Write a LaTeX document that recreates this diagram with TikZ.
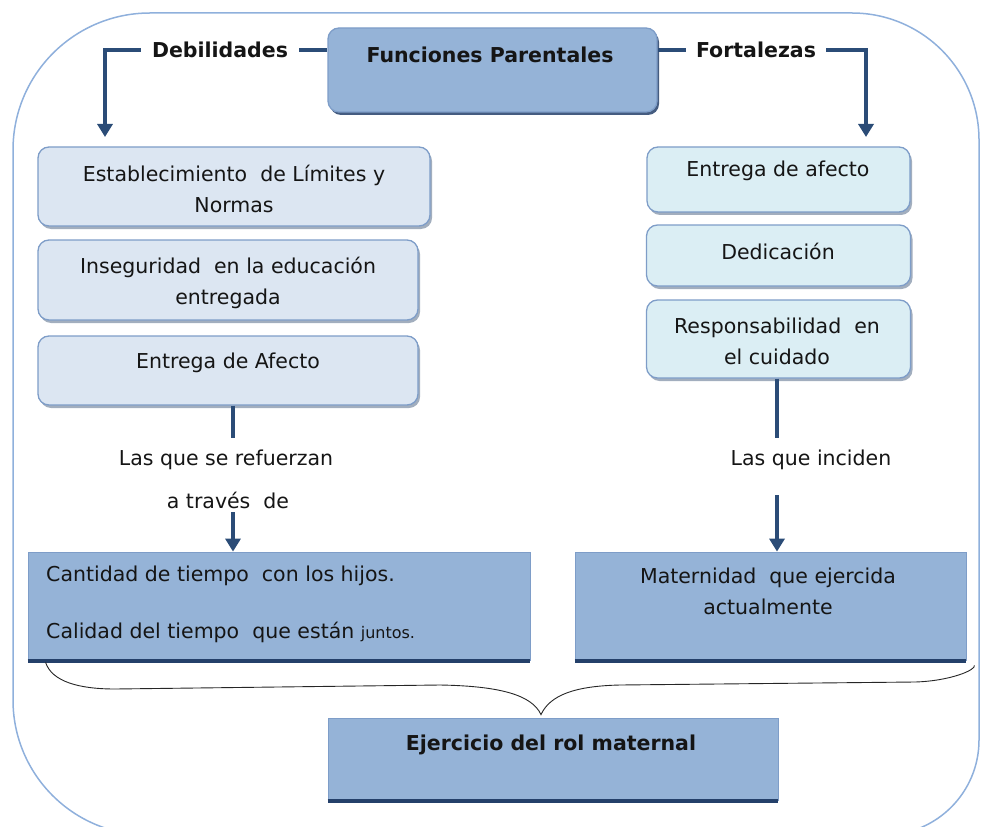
\documentclass[tikz,border=0pt]{standalone}
\usepackage{fontspec}
\setmainfont{DejaVu Sans}
\usetikzlibrary{shadows,arrows.meta}
\definecolor{framecol}{HTML}{8FB0DC}
\definecolor{midblue}{HTML}{95B3D7}
\definecolor{paleblue}{HTML}{DCE6F2}
\definecolor{palecyan}{HTML}{DBEEF4}
\definecolor{edgeblue}{HTML}{7E9DC8}
\definecolor{darkblue}{HTML}{2B4C77}
\definecolor{navy}{HTML}{24406A}
\definecolor{shadecol}{HTML}{8393A8}
\definecolor{inkcol}{HTML}{151515}
\begin{document}
\begin{tikzpicture}[x=1pt,y=-1pt,
  txt/.style={text=inkcol, font=\fontsize{20.5}{31}\selectfont, inner sep=0pt, align=center},
  btxt/.style={text=inkcol, font=\fontsize{20.5}{31}\selectfont\bfseries, inner sep=0pt, align=center},
  basebox/.style={draw=edgeblue, line width=1.3pt, rounded corners=11pt, inner sep=0pt},
  softshadow/.style={drop shadow={shadow xshift=2pt, shadow yshift=-3pt, fill=shadecol, opacity=0.75}},
  leftbox/.style={basebox, softshadow, fill=paleblue},
  rightbox/.style={basebox, softshadow, fill=palecyan},
  topbox/.style={basebox, fill=midblue, drop shadow={shadow xshift=2pt, shadow yshift=-3pt, fill=navy, opacity=0.85}},
  flatbox/.style={draw=edgeblue, line width=0.8pt, fill=midblue, inner sep=0pt},
  conn/.style={draw=darkblue, line width=4pt},
  arr/.style={conn, -{Triangle[width=15pt,length=13pt]}},
  brace/.style={draw=black!85, line width=0.9pt},
]
\useasboundingbox (0,0) rectangle (981,826);
% outer frame
\draw[framecol, line width=1.5pt]
  (13,150) .. controls (13,74.3) and (74.3,13) .. (150,13)
  -- (852,13) .. controls (922.1,13) and (979,69.9) .. (979,140)
  -- (979,740) .. controls (979,792.5) and (936.5,835) .. (884,835)
  -- (148,835) .. controls (73.4,835) and (13,774.6) .. (13,700) -- cycle;

% top box
\node[topbox, minimum width=329pt, minimum height=84pt] (fp) at (492.5,70) {};
\node[btxt] (fpt) at (490,55) {Funciones Parentales};
\node[btxt, inner xsep=11pt] (deb) at (220,50) {Debilidades};
\node[btxt, inner xsep=10pt] (fort) at (756,50) {Fortalezas};
\coordinate (d1) at (105,137);
\coordinate (f1) at (866,137);
\draw[conn] (deb.east) -- (deb.east -| fp.west);
\draw[arr] (deb.west) -| (d1);
\draw[conn] (fort.west) -- (fort.west -| fp.east);
\draw[arr] (fort.east) -| (f1);

% left column
\node[leftbox, minimum width=392pt, minimum height=79pt] (b1) at (234,186.5) {};
\node[txt] (b1t) at (234,189) {Establecimiento\ \ de Límites y\\Normas};
\node[leftbox, minimum width=380pt, minimum height=80pt] (b2) at (228,280) {};
\node[txt] (b2t) at (228,283) {Inseguridad\ \ en la educación\\entregada};
\node[leftbox, minimum width=380pt, minimum height=69pt] (b3) at (228,370.5) {};
\node[txt] (b3t) at (228,363) {Entrega de Afecto};

% right column
\node[rightbox, minimum width=263pt, minimum height=65pt] (r1) at (778.5,179.5) {};
\node[txt] (r1t) at (778,171) {Entrega de afecto};
\node[rightbox, minimum width=264pt, minimum height=61pt] (r2) at (778.5,255.5) {};
\node[txt] (r2t) at (778,251) {Dedicación};
\node[rightbox, minimum width=264pt, minimum height=78pt] (r3) at (778.5,339) {};
\node[txt] (r3t) at (777,341.5) {Responsabilidad\ \ en\\el cuidado};

% middle labels
\node[txt] (rf) at (226,460) {Las que se refuerzan};
\node[txt] (trav) at (228,500) {a través\ \ de};
\node[txt] (inc) at (811,460) {Las que inciden};

% bottom boxes
\node[flatbox, minimum width=502pt, minimum height=108pt] (bl) at (279,606) {};
\draw[navy, line width=4pt] ([yshift=-1pt]bl.south west) -- ([yshift=-1pt]bl.south east);
\node[txt, anchor=west] (bl1) at (46,576) {Cantidad de tiempo\ \ con los hijos.};
\node[txt, anchor=west] (bl2) at (46,632) {Calidad del tiempo\ \ que están {\fontsize{16}{20}\selectfont juntos.}};
\node[flatbox, minimum width=391pt, minimum height=108pt] (br) at (770.5,606) {};
\draw[navy, line width=4pt] ([yshift=-1pt]br.south west) -- ([yshift=-1pt]br.south east);
\node[txt] (brt) at (768,591) {Maternidad\ \ que ejercida\\actualmente};

\node[flatbox, minimum width=450pt, minimum height=82pt] (ej) at (553,759) {};
\draw[navy, line width=4pt] ([yshift=-1pt]ej.south west) -- ([yshift=-1pt]ej.south east);
\node[btxt] (ejt) at (551,745) {Ejercicio del rol maternal};

% connectors in the middle
\coordinate (lb) at (233,438);
\coordinate (la) at (233,512);
\coordinate (rb) at (777,438);
\coordinate (ra) at (777,495);
\draw[conn] (b3.south -| lb) -- (lb);
\draw[arr] (la) -- (la |- bl.north);
\draw[conn] (r3.south -| rb) -- (rb);
\draw[arr] (ra) -- (ra |- br.north);

% brace
\draw[brace] ([xshift=18pt,yshift=-2pt]bl.south west)
  .. controls (52,682) and (80,689) .. (115,689)
  -- (440,685) .. controls (500,686) and (532,695) .. ([xshift=-12pt,yshift=3pt]ej.north)
  .. controls (550,695) and (575,686) .. (620,685)
  -- (915,682) .. controls (950,681) and (976,670) .. ([xshift=8pt,yshift=-5pt]br.south east);
\end{tikzpicture}
\end{document}
